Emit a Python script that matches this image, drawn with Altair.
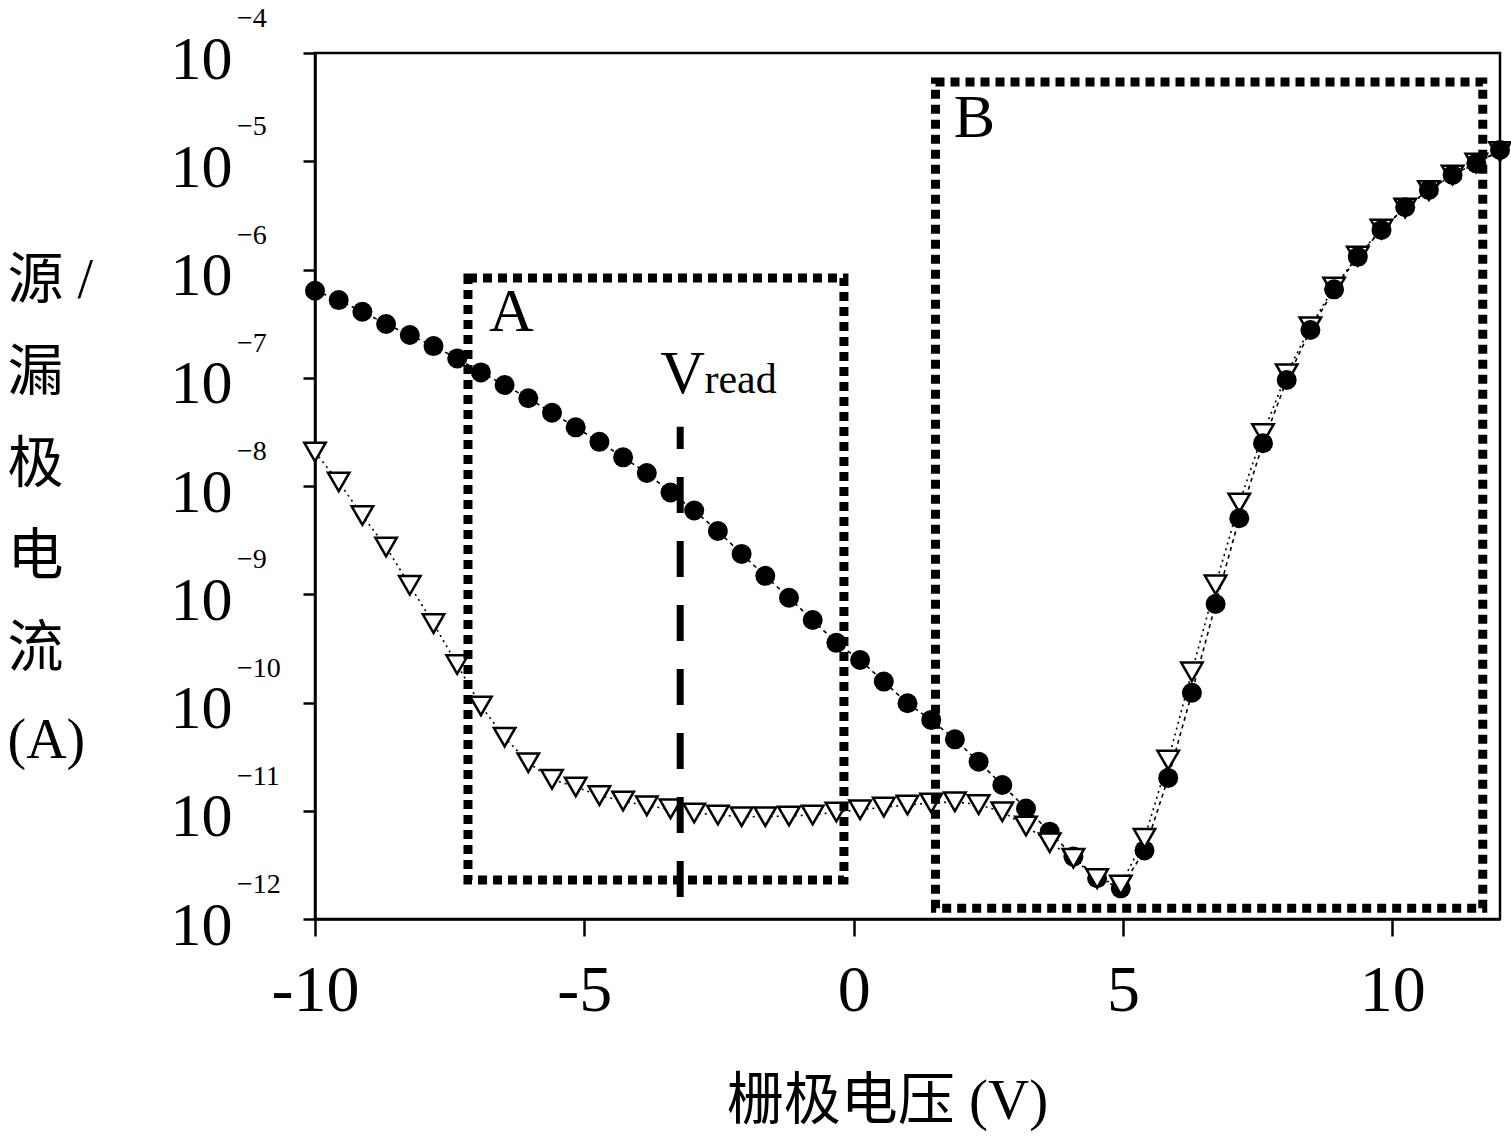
import altair as alt
import pandas as pd

# ---------------- data ----------------
gate_v = [-10.0, -9.56, -9.12, -8.68, -8.24, -7.80, -7.36, -6.92, -6.48, -6.04,
          -5.60, -5.16, -4.72, -4.28, -3.84, -3.40, -2.96, -2.52, -2.08, -1.64,
          -1.20, -0.76, -0.32, 0.12, 0.56, 1.00, 1.44, 1.88, 2.32, 2.76,
          3.20, 3.64, 4.08, 4.52, 4.96, 5.40, 5.84, 6.28, 6.72, 7.16,
          7.60, 8.04, 8.48, 8.92, 9.36, 9.80, 10.24, 10.68, 11.12, 11.56, 12.00]

i_circle = [6.37e-7, 5.22e-7, 4.07e-7, 3.14e-7, 2.48e-7, 1.96e-7, 1.51e-7, 1.12e-7, 8.57e-8, 6.46e-8,
            4.75e-8, 3.48e-8, 2.56e-8, 1.84e-8, 1.32e-8, 8.71e-9, 5.94e-9, 3.84e-9, 2.36e-9, 1.48e-9,
            9.29e-10, 5.78e-10, 3.56e-10, 2.47e-10, 1.56e-10, 9.84e-11, 6.90e-11, 4.57e-11, 2.84e-11, 1.73e-11,
            1.05e-11, 6.41e-12, 3.77e-12, 2.38e-12, 1.92e-12, 4.30e-12, 2.01e-11, 1.23e-10, 8.13e-10, 5.04e-9,
            2.48e-8, 9.53e-8, 2.76e-7, 6.56e-7, 1.31e-6, 2.32e-6, 3.76e-6, 5.42e-6, 7.46e-6, 9.57e-6, 1.27e-5]

i_triangle = [2.06e-8, 1.09e-8, 5.33e-9, 2.73e-9, 1.21e-9, 5.35e-10, 2.24e-10, 9.29e-11, 4.78e-11, 2.78e-11,
              1.95e-11, 1.66e-11, 1.38e-11, 1.23e-11, 1.11e-11, 1.04e-11, 9.53e-12, 9.14e-12, 8.81e-12, 8.81e-12,
              8.95e-12, 9.14e-12, 9.73e-12, 1.02e-11, 1.08e-11, 1.13e-11, 1.18e-11, 1.21e-11, 1.14e-11, 9.79e-12,
              7.23e-12, 5.07e-12, 3.64e-12, 2.36e-12, 2.06e-12, 5.57e-12, 2.94e-11, 1.92e-10, 1.22e-9, 6.97e-9,
              3.05e-8, 1.09e-7, 2.96e-7, 6.89e-7, 1.33e-6, 2.37e-6, 3.70e-6, 5.37e-6, 7.46e-6, 9.64e-6, 1.23e-5]

x_ticks = [-10, -5, 0, 5, 10]
y_ticks = [1e-12, 1e-11, 1e-10, 1e-9, 1e-8, 1e-7, 1e-6, 1e-5, 1e-4]
y_exponents = ["\u221212", "\u221211", "\u221210", "\u22129", "\u22128", "\u22127", "\u22126", "\u22125", "\u22124"]

# dotted boxes A and B
box_name = ["A", "B"]
box_x1 = [-7.16, 1.52]
box_x2 = [-0.18, 11.68]
box_y1 = [2.29e-12, 1.26e-12]
box_y2 = [8.36e-7, 5.40e-5]

# V_read dashed marker
vread_v = [-3.22]
vread_lo = [1.60e-12]
vread_hi = [3.53e-8]

# annotation labels
note_text = ["A", "B", "V"]
note_x = [-6.77, 1.86, -3.59]
note_y = [2.70e-7, 1.69e-5, 7.23e-8]
sub_text = ["read"]
sub_x = [-2.77]
sub_y = [7.23e-8]

# ---------------- tables ----------------
k = list(range(len(gate_v)))
df_c = pd.DataFrame({"v": gate_v, "i": i_circle, "k": k})
df_t = pd.DataFrame({"v": gate_v, "i": i_triangle, "k": k})
df_box = pd.DataFrame({"name": box_name, "v": box_x1, "x2": box_x2, "i": box_y1, "y2": box_y2})
df_vr = pd.DataFrame({"v": vread_v, "i": vread_lo, "hi": vread_hi})
df_note = pd.DataFrame({"t": note_text, "v": note_x, "i": note_y})
df_sub = pd.DataFrame({"t": sub_text, "v": sub_x, "i": sub_y})
df_exp = pd.DataFrame({"i": y_ticks, "lab": y_exponents})

SERIF = "Liberation Serif, Noto Sans CJK SC"

xscale = alt.Scale(domain=[-10, 12], nice=False, zero=False)
yscale = alt.Scale(type="log", domain=[1e-12, 1e-4], nice=False)

xaxis = alt.Axis(values=x_ticks, labelExpr="'' + datum.value", labelFontSize=66,
                 labelFont="Liberation Serif", tickSize=17, labelPadding=22, labelFlush=False,
                 titleFont=SERIF, titleFontSize=57, titleFontWeight="normal",
                 titleX=572, titleY=182, titleBaseline="middle", titleAlign="center")
yaxis = alt.Axis(values=y_ticks, labelExpr="'10'", labelFontSize=62, labelFont="Liberation Serif",
                 tickSize=12, labelPadding=71, labelOffset=6, labelFlush=False,
                 titleFont=SERIF, titleFontSize=56,
                 titleFontWeight="normal", titleAngle=0, titleAlign="left", titleBaseline="top",
                 titleX=-308, titleY=200, titleLineHeight=92)

XT = "栅极电压 (V)"
YT = ["源 /", "漏", "极", "电", "流", "(A)"]

X = alt.X("v:Q", scale=xscale, axis=xaxis, title=XT)
Y = alt.Y("i:Q", scale=yscale, axis=yaxis, title=YT)

line_c = alt.Chart(df_c).mark_line(color="black", strokeWidth=1.6, strokeDash=[4, 4]).encode(x=X, y=Y, order="k:Q")
line_t = alt.Chart(df_t).mark_line(color="black", strokeWidth=1.6, strokeDash=[2, 4]).encode(x=X, y=Y, order="k:Q")

tri_back = alt.Chart(df_t).transform_filter(alt.datum.k >= 36).mark_point(
    shape="triangle-down", size=460, filled=True, fill="white", stroke="black", strokeWidth=2.5, opacity=1
).encode(x=X, y=Y)
circles = alt.Chart(df_c).mark_point(
    shape="circle", size=400, filled=True, color="black", opacity=1
).encode(x=X, y=Y)
tri_front = alt.Chart(df_t).transform_filter(alt.datum.k < 36).mark_point(
    shape="triangle-down", size=460, filled=True, fill="white", stroke="black", strokeWidth=2.5, opacity=1
).encode(x=X, y=Y)

boxes = alt.Chart(df_box).mark_rect(
    fill="white", fillOpacity=0, stroke="black", strokeWidth=9, strokeDash=[9, 6]
).encode(x=X, x2="x2:Q", y=Y, y2="y2:Q")

vread = alt.Chart(df_vr).mark_rule(color="black", strokeWidth=7, strokeDash=[36, 28]).encode(
    x=X, y=Y, y2="hi:Q"
)

notes = alt.Chart(df_note).mark_text(
    font="Liberation Serif", fontSize=62, align="left", baseline="alphabetic", color="black"
).encode(x=X, y=Y, text="t:N")

subs = alt.Chart(df_sub).mark_text(
    font="Liberation Serif", fontSize=42, align="left", baseline="alphabetic", color="black"
).encode(x=X, y=Y, text="t:N")

exps = alt.Chart(df_exp).mark_text(
    font="Liberation Serif", fontSize=28, align="left", baseline="alphabetic", dy=-26, color="black"
).encode(x=alt.value(-78), y=Y, text="lab:N")

chart = alt.layer(
    line_c, line_t, tri_back, circles, tri_front, boxes, vread, notes, subs, exps
).properties(
    width=1185, height=866,
    padding={"left": 315, "top": 53, "right": 11, "bottom": 218},
    autosize=alt.AutoSizeParams(type="none"),
    background="white",
).configure_view(
    stroke="black", strokeWidth=2.5
).configure_axis(
    grid=False, domainColor="black", domainWidth=2.5, tickColor="black", tickWidth=2.5,
    labelColor="black", titleColor="black"
)

chart.save("out.html", embed_options={"renderer": "svg", "actions": False})
